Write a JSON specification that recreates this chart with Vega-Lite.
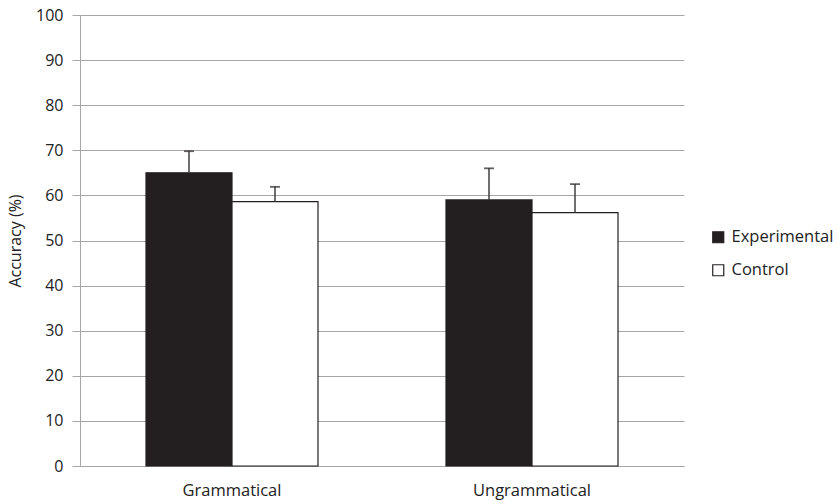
{
  "$schema": "https://vega.github.io/schema/vega-lite/v6.json",
  "width": 604,
  "height": 451,
  "autosize": {"type": "none"},
  "padding": {"left": 80, "top": 15, "right": 153, "bottom": 38},
  "background": "white",
  "config": {
    "font": "Open Sans",
    "view": {"stroke": null}
  },
  "data": {
    "values": [
      {"condition": "Grammatical", "group": "Experimental", "value": 65.0, "upper": 69.8},
      {"condition": "Grammatical", "group": "Control", "value": 58.6, "upper": 61.9},
      {"condition": "Ungrammatical", "group": "Experimental", "value": 59.0, "upper": 66.0},
      {"condition": "Ungrammatical", "group": "Control", "value": 56.2, "upper": 62.5}
    ]
  },
  "encoding": {
    "x": {
      "field": "condition",
      "type": "nominal",
      "scale": {"paddingInner": 0.4267, "paddingOuter": 0.22},
      "axis": {
        "title": null,
        "labelAngle": 0,
        "ticks": false,
        "domain": true,
        "domainColor": "#a6a6a6",
        "labelFontSize": 16.5,
        "labelColor": "#222222",
        "labelPadding": 16,
        "labelFont": "Open Sans"
      }
    },
    "xOffset": {"field": "group", "type": "nominal", "sort": ["Experimental", "Control"], "scale": {"paddingInner": 0, "paddingOuter": 0}}
  },
  "layer": [
    {
      "mark": {"type": "bar", "stroke": "#231f20", "strokeWidth": 1.2},
      "encoding": {
        "y": {
          "field": "value",
          "type": "quantitative",
          "scale": {"domain": [0, 100], "nice": false},
          "axis": {
            "title": "Accuracy (%)",
            "titleFontSize": 16,
            "titleFontWeight": "normal",
            "titleColor": "#222222",
            "titlePadding": 12,
            "values": [0, 10, 20, 30, 40, 50, 60, 70, 80, 90, 100],
            "labelFontSize": 16,
            "labelColor": "#222222",
            "labelPadding": 9,
            "tickSize": 8,
            "tickColor": "#a6a6a6",
            "domainColor": "#a6a6a6",
            "grid": true,
            "gridColor": "#a6a6a6",
            "gridWidth": 1
          }
        },
        "fill": {
          "field": "group",
          "type": "nominal",
          "sort": ["Experimental", "Control"],
          "scale": {"domain": ["Experimental", "Control"], "range": ["#231f20", "#ffffff"]},
          "legend": {
            "title": null,
            "orient": "none",
            "legendX": 630,
            "legendY": 214,
            "symbolType": "square",
            "symbolSize": 121,
            "symbolStrokeColor": "#231f20",
            "symbolStrokeWidth": 1.2,
            "labelFontSize": 16.5,
            "labelColor": "#222222",
            "labelOffset": 5,
            "rowPadding": 16
          }
        }
      }
    },
    {
      "mark": {"type": "rule", "color": "#404040", "strokeWidth": 1.5},
      "encoding": {
        "y": {"field": "value", "type": "quantitative"},
        "y2": {"field": "upper"}
      }
    },
    {
      "mark": {"type": "tick", "color": "#231f20", "thickness": 1.8, "size": 10},
      "encoding": {
        "y": {"field": "upper", "type": "quantitative"}
      }
    }
  ]
}
